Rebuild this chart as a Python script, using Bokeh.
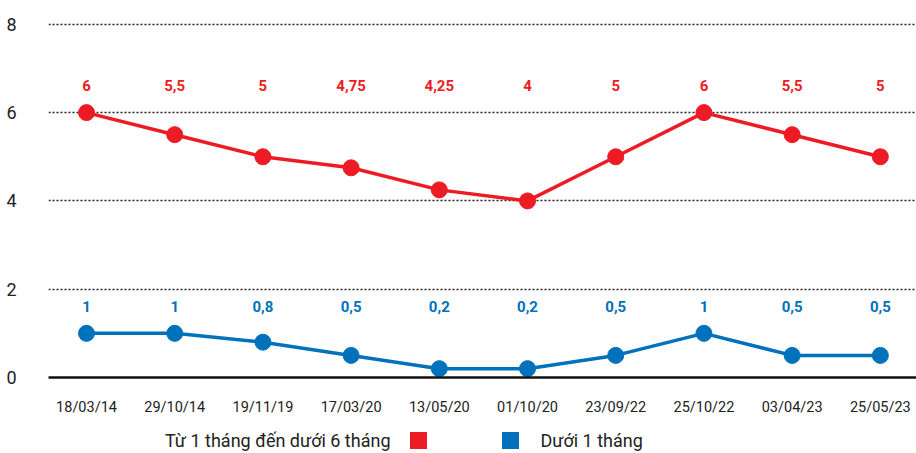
from bokeh.plotting import figure
from bokeh.models import ColumnDataSource, FixedTicker, Range1d
from bokeh.layouts import column
from bokeh.core.properties import value
from bokeh.embed import file_html
from bokeh.resources import INLINE

dates = ["18/03/14", "29/10/14", "19/11/19", "17/03/20", "13/05/20",
         "01/10/20", "23/09/22", "25/10/22", "03/04/23", "25/05/23"]
red_vals = [6, 5.5, 5, 4.75, 4.25, 4, 5, 6, 5.5, 5]
blue_vals = [1, 1, 0.8, 0.5, 0.2, 0.2, 0.5, 1, 0.5, 0.5]
red_name = "Từ 1 tháng đến dưới 6 tháng"
blue_name = "Dưới 1 tháng"
y_ticks = [0, 2, 4, 6, 8]

RED = "#ED1C24"
BLUE = "#0072BC"
FONT = "Roboto"
TXT = "#222222"

def fmt(v):
    s = ("%g" % v)
    return s.replace(".", ",")

idx = list(range(len(dates)))
src = ColumnDataSource(dict(
    x=idx, red=red_vals, blue=blue_vals,
    red_lbl=[fmt(v) for v in red_vals], blue_lbl=[fmt(v) for v in blue_vals],
    red_y=[6.62] * len(idx), blue_y=[1.61] * len(idx),
))

p = figure(width=916, height=420, output_backend="svg", toolbar_location=None,
           x_range=Range1d(-0.431, 9.41), y_range=Range1d(0, 8.2),
           min_border_left=48, min_border_right=0, min_border_top=15,
           min_border_bottom=43)
p.outline_line_color = None
p.background_fill_color = "white"
p.border_fill_color = "white"

p.xgrid.grid_line_color = None
p.ygrid.ticker = FixedTicker(ticks=[2, 4, 6, 8])
p.ygrid.grid_line_color = "#222222"
p.ygrid.grid_line_dash = "2 2"
p.ygrid.grid_line_width = 1.5

p.yaxis.ticker = FixedTicker(ticks=y_ticks)
p.yaxis.axis_line_color = None
p.yaxis.major_tick_line_color = None
p.yaxis.minor_tick_line_color = None
p.yaxis.major_label_standoff = 26
p.yaxis.major_label_text_font = FONT
p.yaxis.major_label_text_font_size = "18px"
p.yaxis.major_label_text_color = TXT

p.xaxis.ticker = FixedTicker(ticks=idx)
p.xaxis.major_label_overrides = {i: d for i, d in enumerate(dates)}
p.xaxis.axis_line_color = "#111111"
p.xaxis.axis_line_width = 2.5
p.xaxis.major_tick_line_color = None
p.xaxis.minor_tick_line_color = None
p.xaxis.major_label_standoff = 15
p.xaxis.major_label_text_font = FONT
p.xaxis.major_label_text_font_size = "14.5px"
p.xaxis.major_label_text_color = TXT

p.line("x", "red", source=src, line_color=RED, line_width=3.5)
p.scatter("x", "red", source=src, size=16, fill_color=RED, line_color=RED)
p.line("x", "blue", source=src, line_color=BLUE, line_width=3.5)
p.scatter("x", "blue", source=src, size=16, fill_color=BLUE, line_color=BLUE)

p.text("x", "red_y", text="red_lbl", source=src, text_color=RED,
       text_font=value(FONT), text_font_style="bold", text_font_size="15px",
       text_align="center", text_baseline="middle")
p.text("x", "blue_y", text="blue_lbl", source=src, text_color=BLUE,
       text_font=value(FONT), text_font_style="bold", text_font_size="15px",
       text_align="center", text_baseline="middle")

# legend strip (frame is aligned with the main frame: 48..916 px)
lg = figure(width=916, height=33, output_backend="svg", toolbar_location=None,
            x_range=Range1d(48, 916), y_range=Range1d(0, 33),
            min_border=0)
lg.axis.visible = False
lg.grid.visible = False
lg.outline_line_color = None
lg.text(x=[390], y=[13], text=[red_name], text_font=value(FONT),
        text_font_size="18px", text_color=TXT, text_align="right",
        text_baseline="middle")
lg.scatter(x=[418], y=[13], marker="square", size=17, fill_color=RED, line_color=None)
lg.scatter(x=[510], y=[13], marker="square", size=17, fill_color=BLUE, line_color=None)
lg.text(x=[540], y=[13], text=[blue_name], text_font=value(FONT),
        text_font_size="18px", text_color=TXT, text_align="left",
        text_baseline="middle")

layout = column(p, lg, spacing=0)
open("out.html", "w").write(file_html(layout, INLINE))
